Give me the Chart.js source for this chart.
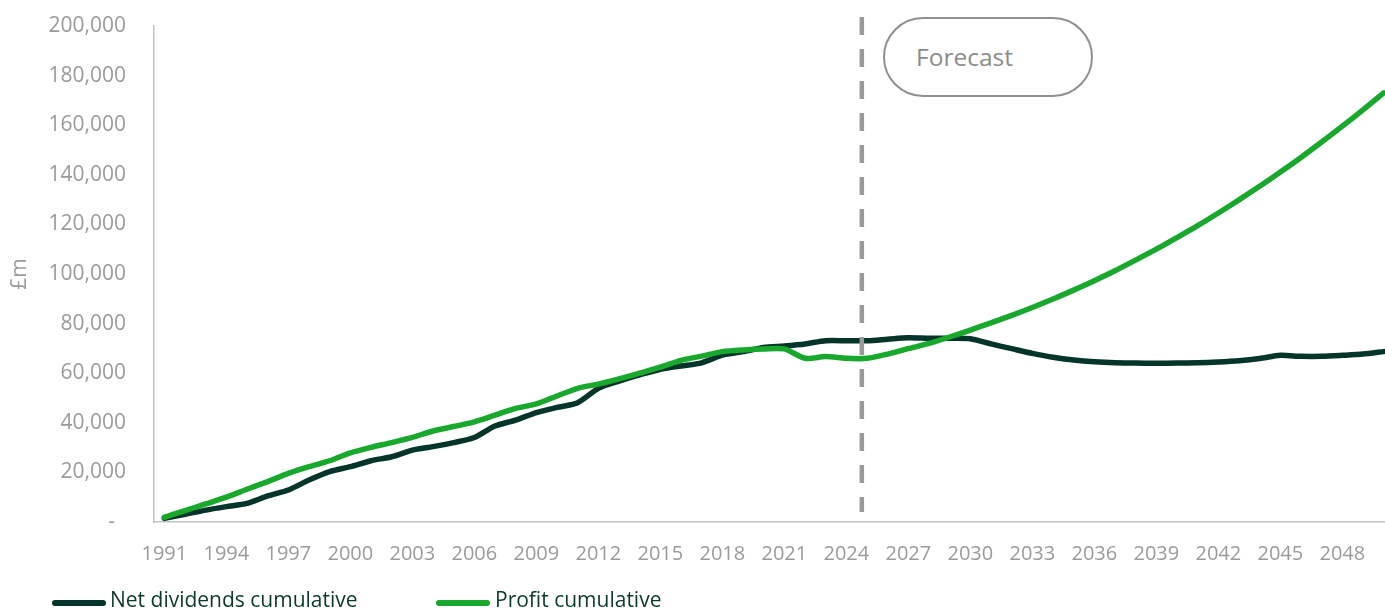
<!DOCTYPE html>
<html>
<head>
<meta charset="utf-8">
<script src="https://cdn.jsdelivr.net/npm/chart.js@4.4.1/dist/chart.umd.min.js"></script>
<style>
  html, body { margin: 0; padding: 0; background: #ffffff; overflow: hidden; }
  #wrap { position: relative; width: 1401px; height: 610px; font-family: "Open Sans", sans-serif; }
  #c { position: absolute; left: 0; top: 0; }
  .fc { position: absolute; left: 883px; top: 17px; width: 210px; height: 80px; box-sizing: border-box;
        border: 2px solid #8f8f8f; border-radius: 40px; color: #8c8c8c; font-size: 24.5px;
        line-height: 76px; padding-left: 31px; background: #ffffff; }
  .lg-line { position: absolute; height: 6px; width: 54px; border-radius: 3px; top: 600px; }
  .lg-text { position: absolute; top: 589px; font-size: 21px; line-height: 21px; color: #0b3a2e; white-space: nowrap; }
</style>
</head>
<body>
<div id="wrap">
  <canvas id="c" width="1401" height="610"></canvas>
  <div class="fc">Forecast</div>
  <div class="lg-line" style="left:52px;background:#04342a;"></div>
  <div class="lg-text" style="left:110px;">Net dividends cumulative</div>
  <div class="lg-line" style="left:436px;background:#18a82c;"></div>
  <div class="lg-text" style="left:495px;">Profit cumulative</div>
</div>
<script>
const years = [];
for (let y = 1991; y <= 2050; y++) years.push(String(y));

const netDividends = [
  1500, 3100, 4800, 6200, 7500, 10500, 12900, 16900, 20300, 22300,
  24700, 26300, 29000, 30400, 32000, 34100, 38700, 41100, 44100, 46200,
  48100, 53900, 56800, 59300, 61600, 62900, 64200, 67300, 68700, 70400,
  71000, 71800, 73100, 73100, 73100, 73700, 74300, 74100, 74100, 73900,
  71800, 69900, 68000, 66400, 65300, 64600, 64200, 64100, 64000, 64100,
  64200, 64500, 65000, 65900, 67200, 66800, 66800, 67200, 67700, 68700
];

const profit = [
  1900, 4600, 7300, 10000, 13200, 16300, 19600, 22300, 24700, 27900,
  30100, 32000, 34100, 36700, 38500, 40400, 43100, 45800, 47600, 50800,
  53900, 55600, 57700, 60000, 62400, 65200, 66900, 68700, 69400, 69800,
  69800, 66000, 66700, 66000, 66000, 67700, 69900, 72000, 74600, 77400,
  80300, 83300, 86500, 89900, 93500, 97300, 101300, 105600, 110000, 114700,
  119500, 124600, 129900, 135400, 141100, 147000, 153200, 159600, 166200, 173000
];

const yTicks = [0, 20000, 40000, 60000, 80000, 100000, 120000, 140000, 160000, 180000, 200000];
const forecastStartIndex = 33; // 2024
const forecastFraction = 0.75;

const gray = '#9b9b9b';
const axisGray = '#c4c4c4';

const forecastLine = {
  id: 'forecastLine',
  afterDatasetsDraw(chart) {
    const x = chart.scales.x;
    const ctx = chart.ctx;
    const p0 = x.getPixelForValue(forecastStartIndex);
    const p1 = x.getPixelForValue(forecastStartIndex + 1);
    const px = p0 + (p1 - p0) * forecastFraction;
    ctx.save();
    ctx.strokeStyle = '#9a9a9a';
    ctx.lineWidth = 4.5;
    ctx.setLineDash([18, 14]);
    ctx.beginPath();
    ctx.moveTo(px, 17);
    ctx.lineTo(px, 512);
    ctx.stroke();
    ctx.restore();
  }
};

new Chart(document.getElementById('c'), {
  type: 'line',
  data: {
    labels: years,
    datasets: [
      {
        label: 'Net dividends cumulative',
        data: netDividends,
        borderColor: '#04342a',
        backgroundColor: '#04342a',
        borderWidth: 5.5,
        pointRadius: 0,
        tension: 0.25,
        borderCapStyle: 'round',
        borderJoinStyle: 'round',
        order: 1
      },
      {
        label: 'Profit cumulative',
        data: profit,
        borderColor: '#18a82c',
        backgroundColor: '#18a82c',
        borderWidth: 5.5,
        pointRadius: 0,
        tension: 0.25,
        borderCapStyle: 'round',
        borderJoinStyle: 'round',
        order: 0
      }
    ]
  },
  options: {
    responsive: false,
    animation: false,
    devicePixelRatio: 1,
    layout: { padding: { top: 26, right: 7, left: 0, bottom: 0 } },
    plugins: { legend: { display: false }, tooltip: { enabled: false } },
    scales: {
      x: {
        offset: true,
        grid: { display: false, drawTicks: false },
        border: { display: true, color: axisGray, width: 1.5 },
        ticks: {
          autoSkip: false,
          maxRotation: 0,
          minRotation: 0,
          padding: 20,
          color: gray,
          font: { family: 'Open Sans', size: 20 },
          callback: function (v, i) { return i % 3 === 0 ? years[i] : ''; }
        },
        afterFit: function (s) { s.height = 88; s.paddingLeft = 0; s.paddingRight = 0; }
      },
      y: {
        min: 0,
        max: 200000,
        afterBuildTicks: function (s) { s.ticks = yTicks.map(v => ({ value: v })); },
        grid: { display: false, drawTicks: false },
        border: { display: true, color: axisGray, width: 1.5 },
        ticks: {
          padding: 28,
          color: gray,
          font: { family: 'Open Sans', size: 21 },
          callback: function (v) { return v === 0 ? '-  ' : v.toLocaleString('en-US'); }
        },
        title: {
          display: true,
          text: '£m',
          color: gray,
          font: { family: 'Open Sans', size: 21 },
          padding: { top: 7, bottom: 0 }
        },
        afterFit: function (s) { s.width = 154; s.paddingTop = 0; s.paddingBottom = 0; }
      }
    }
  },
  plugins: [forecastLine]
});
</script>
</body>
</html>
